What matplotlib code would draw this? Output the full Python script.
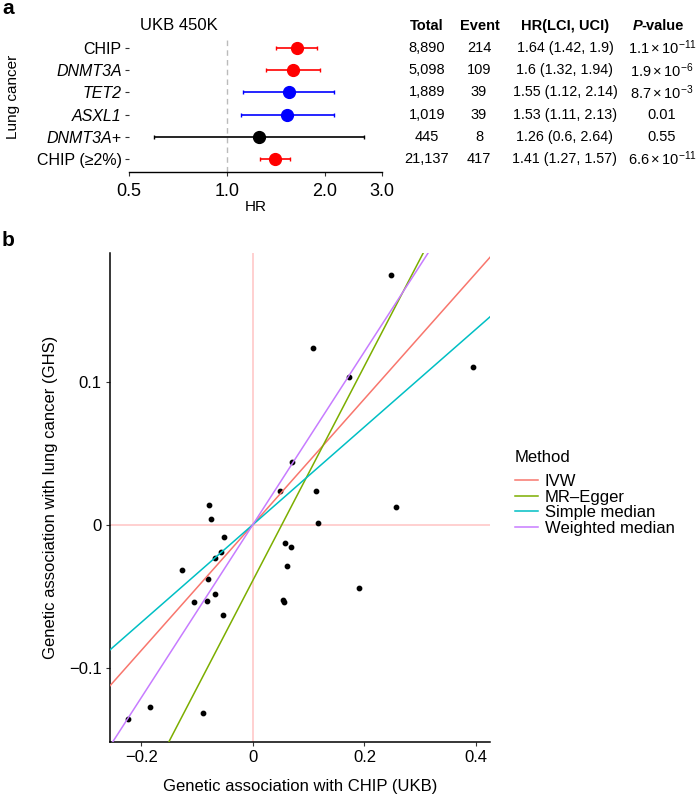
import matplotlib
matplotlib.use('Agg')
import matplotlib.pyplot as plt
import matplotlib.transforms as mtransforms
from matplotlib.lines import Line2D
from matplotlib.ticker import FixedLocator, NullLocator

plt.rcParams['font.family'] = ['Liberation Sans', 'DejaVu Sans']
plt.rcParams['mathtext.fontset'] = 'custom'
plt.rcParams['mathtext.rm'] = 'Liberation Sans'
plt.rcParams['mathtext.it'] = 'Liberation Sans:italic'
plt.rcParams['mathtext.bf'] = 'Liberation Sans:bold'

# ---- panel a data ----
labels = ['CHIP', 'DNMT3A', 'TET2', 'ASXL1', 'DNMT3A+', 'CHIP (≥2%)']
italic = [False, True, True, True, True, False]
hr = [1.64, 1.6, 1.55, 1.53, 1.26, 1.41]
lci = [1.42, 1.32, 1.12, 1.11, 0.6, 1.27]
uci = [1.9, 1.94, 2.14, 2.13, 2.64, 1.57]
dot_colors = ['#ff0000', '#ff0000', '#0000ff', '#0000ff', '#000000', '#ff0000']
total = ['8,890', '5,098', '1,889', '1,019', '445', '21,137']
events = ['214', '109', '39', '39', '8', '417']
pvals = [r'$1.1\times10^{-11}$', r'$1.9\times10^{-6}$', r'$8.7\times10^{-3}$',
         '0.01', '0.55', r'$6.6\times10^{-11}$']
hr_ticks = [0.5, 1.0, 2.0, 3.0]

# ---- panel b data ----
snp_x = [0.248, 0.108, 0.1715, 0.395, 0.0705, 0.0484, -0.0789, -0.0753, -0.0525,
         -0.0573, -0.068, -0.1267, -0.0806, -0.068, -0.1063, -0.0824, -0.0538,
         0.058, 0.068, 0.062, 0.0538, 0.056, 0.113, 0.256, 0.117, 0.1905,
         -0.184, -0.2246, -0.089]
snp_y = [0.1746, 0.1238, 0.1033, 0.1105, 0.0436, 0.0238, 0.014, 0.0037, -0.0089,
         -0.0194, -0.0233, -0.032, -0.0382, -0.0483, -0.054, -0.0534, -0.063,
         -0.0128, -0.0156, -0.0289, -0.053, -0.0538, 0.0233, 0.0121, 0.0009, -0.044,
         -0.1273, -0.1361, -0.1317]
methods = ['IVW', 'MR–Egger', 'Simple median', 'Weighted median']
slopes = [0.44, 0.75, 0.342, 0.605]
intercepts = [0.0, -0.039, 0.0, 0.0]
method_colors = ['#F8766D', '#7CAE00', '#00BFC4', '#C77CFF']

W, H = 698, 797
fig = plt.figure(figsize=(W / 100, H / 100), dpi=100)


def px(x0, y0, x1, y1):
    # pixel box -> figure fraction rect
    return [x0 / W, 1 - y1 / H, (x1 - x0) / W, (y1 - y0) / H]


# ================= panel a =================
ax = fig.add_axes(px(128.7, 37, 382, 172.3))
rows = list(range(len(labels)))
ax.axvline(1.0, color='#bbbbbb', lw=1, ls=(0, (4, 3)), zorder=0)
for i in rows:
    ax.errorbar(hr[i], i, xerr=[[hr[i] - lci[i]], [uci[i] - hr[i]]], fmt='o',
                color=dot_colors[i], ms=8.5, elinewidth=1.2, capsize=1.5, capthick=1)
ax.set_xscale('log')
ax.set_xlim(0.5, 3.0)
ax.set_ylim(5.6, -0.5)
ax.xaxis.set_major_locator(FixedLocator(hr_ticks))
ax.xaxis.set_minor_locator(NullLocator())
ax.set_xticklabels(['%.1f' % t for t in hr_ticks], fontsize=13)
ax.set_yticks(rows)
ax.set_yticklabels(labels, fontsize=11.5)
for lab, it in zip(ax.get_yticklabels(), italic):
    if it:
        lab.set_style('italic')
for s in ['top', 'right', 'left']:
    ax.spines[s].set_visible(False)
ax.spines['bottom'].set_linewidth(1)
ax.tick_params(axis='both', length=3, width=0.8, color='#333333', pad=2)
ax.tick_params(axis='x', pad=5)
ax.set_xlabel('HR', fontsize=11, labelpad=0)
fig.text(140 / W, 1 - 25 / H, 'UKB 450K', fontsize=12, va='center', ha='left')
fig.text(13 / W, 1 - 97 / H, 'Lung cancer', fontsize=11, rotation=90,
         va='center', ha='center')

# table
tr = mtransforms.blended_transform_factory(fig.transFigure, ax.transData)
hy = 1 - 26 / H
fig.text(426.7 / W, hy, 'Total', fontsize=10.5, weight='bold', ha='center', va='center')
fig.text(480 / W, hy, 'Event', fontsize=10.5, weight='bold', ha='center', va='center')
fig.text(565.5 / W, hy, 'HR(LCI, UCI)', fontsize=10.5, weight='bold', ha='center', va='center')
fig.text(633 / W, hy, 'P', fontsize=10.5, weight='bold', style='italic', ha='left', va='center')
fig.text(641.5 / W, hy, '-value', fontsize=10.5, weight='bold', ha='left', va='center')
for i in rows:
    ax.text(426.7 / W, i, total[i], transform=tr, fontsize=10.5, ha='center', va='center',
            clip_on=False)
    ax.text(479 / W, i, events[i], transform=tr, fontsize=10.5, ha='center', va='center',
            clip_on=False)
    ax.text(565 / W, i, '%s (%s, %s)' % (hr[i], lci[i], uci[i]), transform=tr,
            fontsize=10.3, ha='center', va='center', clip_on=False)
    ax.text(662 / W, i, pvals[i], transform=tr, fontsize=10.5, ha='center', va='center',
            clip_on=False)

# ================= panel b =================
bx = fig.add_axes(px(110, 253, 490, 742))
bx.axhline(0, color='#ffc8c8', lw=1.2, zorder=0)
bx.axvline(0, color='#ffc8c8', lw=1.2, zorder=0)
bx.scatter(snp_x, snp_y, s=10, color='black', zorder=2)
for m, sl, ic, c in zip(methods, slopes, intercepts, method_colors):
    bx.axline((0, ic), slope=sl, color=c, lw=1.1, zorder=3)
bx.set_xlim(-0.256, 0.425)
bx.set_ylim(-0.152, 0.19)
bx.set_xticks([-0.2, 0, 0.2, 0.4])
bx.set_xticklabels(['\u22120.2', '0', '0.2', '0.4'], fontsize=12)
bx.set_yticks([-0.1, 0, 0.1])
bx.set_yticklabels(['\u22120.1', '0', '0.1'], fontsize=12)
for s in ['top', 'right']:
    bx.spines[s].set_visible(False)
for s in ['left', 'bottom']:
    bx.spines[s].set_linewidth(1.1)
bx.tick_params(axis='both', length=3, width=0.8, color='#333333', pad=3)
bx.set_xlabel('Genetic association with CHIP (UKB)', fontsize=12, labelpad=10)
bx.set_ylabel('Genetic association with lung cancer (GHS)', fontsize=12, labelpad=8)

fig.text(515 / W, 1 - 458 / H, 'Method', fontsize=12, ha='left', va='center')
handles = [Line2D([0], [0], color=c, lw=1.1) for c in method_colors]
leg = fig.legend(handles, methods, loc='upper left',
                 bbox_to_anchor=(515 / W, 1 - 474 / H), frameon=False, fontsize=12,
                 handlelength=1.4, handletextpad=0.4,
                 labelspacing=0.04, borderpad=0, borderaxespad=0)

fig.text(2 / W, 1 - 8 / H, 'a', fontsize=15, weight='bold', va='center', ha='left')
fig.text(2 / W, 1 - 240 / H, 'b', fontsize=15, weight='bold', va='center', ha='left')

fig.savefig('out.png', dpi=100)
